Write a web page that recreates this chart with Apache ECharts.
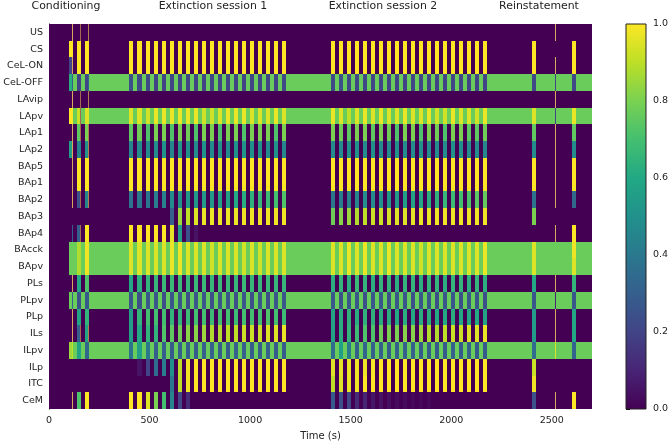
<!DOCTYPE html>
<html>
<head>
<meta charset="utf-8">
<style>
  html, body { margin: 0; padding: 0; background: #fff; }
  #main { width: 669px; height: 441px; }
</style>
</head>
<body>
<div id="main"></div>
<script src="https://cdn.jsdelivr.net/npm/echarts@6/dist/echarts.min.js"></script>
<script>
var regions = ['US','CS','CeL-ON','CeL-OFF','LAvip','LApv','LAp1','LAp2','BAp5','BAp1','BAp2','BAp3','BAp4','BAcck','BApv','PLs','PLpv','PLp','ILs','ILpv','ILp','ITC','CeM'];
var sessions = ['Conditioning','Extinction session 1','Extinction session 2','Reinstatement'];
var xTicks = [0,500,1000,1500,2000,2500];

// CS onsets (s), each lasts 20 s
var csOnsets = [97,138,178,
  400,440,480,520,560,600,640,680,720,760,800,840,880,920,960,1000,1040,1080,1120,1160,
  1400,1440,1480,1520,1560,1600,1640,1680,1720,1760,1800,1840,1880,1920,1960,2000,2040,2080,2120,2160,
  2400,2600];
var csLength = 20;
var restStart = 97;
var tEnd = 2700;

// activity between CS, per row
var restLevel = [0,0,0,0.77,0,0.77,0,0,0,0,0,0,0,0.77,0.77,0,0.77,0,0,0.77,0,0,0];

// activity during each CS: 3 conditioning, 20 + 20 extinction, 2 reinstatement
var vUS    = [0,0,0, 0,0,0,0,0,0,0,0,0,0,0,0,0,0,0,0,0,0,0,0, 0,0,0,0,0,0,0,0,0,0,0,0,0,0,0,0,0,0,0,0, 0,0];
var vCS    = [1,1,1, 1,1,1,1,1,1,1,1,1,1,1,1,1,1,1,1,1,1,1,1, 1,1,1,1,1,1,1,1,1,1,1,1,1,1,1,1,1,1,1,1, 1,1];
var vCelOn = [.2,1,1, 1,1,1,1,1,1,1,1,1,1,1,1,1,1,1,1,1,1,1,1, 1,1,1,1,1,1,1,1,1,1,1,1,1,1,1,1,1,1,1,1, 1,1];
var vCelOff= [.62,.2,.2, .24,.22,.22,.2,.2,.2,.2,.2,.2,.2,.2,.2,.2,.2,.2,.2,.2,.2,.2,.22, .22,.24,.22,.22,.22,.2,.2,.2,.2,.2,.2,.2,.2,.2,.2,.2,.2,.2,.2,.2, .22,.22];
var vLAvip = [0,0,0, 0,0,0,0,0,0,0,0,0,0,0,0,0,0,0,0,0,0,0,0, 0,0,0,0,0,0,0,0,0,0,0,0,0,0,0,0,0,0,0,0, 0,0];
var vLApv  = [1,.92,.95, .95,.95,.93,.97,.97,.97,.97,.97,.97,.93,.93,.95,.97,.97,.97,.95,.95,.95,.97,.95, .97,.95,.9,.95,.97,.95,.97,.95,.95,.97,.95,.95,.97,.93,.93,.97,.95,.95,.93,.97, .95,.97];
var vLAp1  = [0,.75,.8, .75,.78,.72,.8,.8,.72,.8,.78,.72,.8,.8,.72,.8,.8,.72,.8,.8,.8,.72,.8, .8,.78,.75,.8,.8,.75,.8,.78,.72,.8,.8,.72,.8,.78,.72,.8,.8,.75,.75,.78, .75,.75];
var vLAp2  = [.55,.44,.5, .46,.48,.48,.48,.5,.46,.52,.5,.48,.5,.48,.5,.48,.5,.5,.5,.5,.48,.5,.46, .48,.48,.5,.5,.48,.5,.48,.48,.5,.48,.48,.5,.48,.48,.48,.5,.5,.48,.48,.46, .48,.48];
var vBAp5  = [0,1,1, 1,1,1,1,1,1,1,1,1,1,1,1,1,1,1,1,1,1,1,1, 1,1,1,1,1,1,1,1,1,1,1,1,1,1,1,1,1,1,1,1, 1,1];
var vBAp1  = [0,1,1, 1,1,1,1,1,1,1,1,1,1,1,1,1,1,1,1,1,1,1,1, 1,1,1,1,1,1,1,1,1,1,1,1,1,1,1,1,1,1,1,1, 1,1];
var vBAp2  = [0,.25,.45, .38,.4,.4,.42,.44,.48,.5,.52,.52,.54,.54,.56,.57,.6,.62,.64,.66,.68,.7,.72, .4,.42,.44,.46,.48,.48,.5,.52,.54,.56,.58,.6,.62,.64,.66,.68,.7,.72,.74,.76, .38,.34];
var vBAp3  = [0,0,0, 0,0,0,0,0,.3,.85,.9,.95,.97,.97,.97,.97,.97,.98,.98,.98,.98,.98,.98, .78,.82,.85,.88,.9,.92,.92,.94,.95,.95,.96,.97,.97,.98,.98,.98,.98,.98,.98,.98, .8,0];
var vBAp4  = [0,.3,1, 1,1,1,1,1,.96,.55,.25,.05,0,0,0,0,0,0,0,0,0,0,0, 0,0,0,0,0,0,0,0,0,0,0,0,0,0,0,0,0,0,0,0, 0,1];
var vBAcck = [.77,.88,.98, .95,.95,.95,.95,.95,.97,.98,.95,.95,.95,.93,.95,.95,.95,.93,.95,.93,.95,.95,.95, .95,.95,.97,.95,.97,.95,.95,.97,.95,.95,.95,.93,.95,.95,.95,.95,.95,.95,.95,.97, .95,.98];
var vBApv  = [.77,.88,.98, .95,.95,.95,.95,.95,.97,.98,.95,.95,.95,.93,.95,.95,.95,.93,.95,.93,.95,.95,.95, .95,.95,.97,.95,.97,.95,.95,.97,.95,.95,.95,.93,.95,.95,.95,.95,.95,.95,.95,.97, .95,.95];
var vPLs   = [0,.6,.72, .6,.63,.65,.66,.67,.67,.67,.66,.67,.67,.66,.67,.67,.66,.67,.66,.66,.67,.66,.66, .63,.65,.63,.67,.65,.63,.65,.65,.63,.65,.65,.63,.65,.65,.63,.65,.65,.63,.65,.63, .6,.65];
var vPLpv  = [.77,.25,.28, .27,.24,.27,.27,.24,.27,.27,.24,.27,.27,.24,.27,.27,.24,.27,.24,.27,.24,.27,.27, .27,.24,.27,.27,.24,.27,.27,.24,.27,.27,.24,.27,.27,.24,.27,.27,.24,.27,.27,.24, .27,.27];
var vPLp   = [0,.58,.65, .55,.65,.7,.7,.7,.65,.65,.68,.7,.7,.68,.7,.7,.68,.7,.7,.7,.72,.7,.68, .58,.62,.64,.62,.64,.64,.62,.62,.6,.62,.6,.62,.62,.6,.6,.62,.6,.6,.6,.58, .55,.6];
var vILs   = [0,.3,.58, .55,.6,.65,.65,.72,.75,.78,.82,.82,.85,.88,.88,.9,.9,.92,.92,.92,.95,.95,.97, .58,.62,.65,.68,.72,.72,.78,.8,.8,.82,.82,.85,.88,.88,.9,.92,.92,.95,.95,.97, .55,.6];
var vILpv  = [.85,.58,.33, .38,.55,.4,.3,.3,.28,.3,.3,.28,.3,.3,.28,.28,.3,.3,.28,.28,.3,.28,.28, .35,.55,.4,.3,.32,.3,.3,.28,.3,.3,.3,.28,.28,.28,.28,.3,.28,.3,.28,.28, .35,.32];
var vILp   = [0,0,0, 0,.05,.2,.35,.42,.5,.9,.98,1,1,1,1,1,1,1,1,1,1,1,1, .95,.96,.97,.98,.98,.99,1,1,1,1,1,1,1,1,1,1,1,1,1,1, .92,0];
var vITC   = [0,0,0, 0,0,0,0,0,.4,.9,.98,1,1,1,1,1,1,1,1,1,1,1,1, .9,.95,.97,.98,1,1,1,1,1,1,1,1,1,1,1,1,1,1,1,1, .98,0];
var vCeM   = [0,.72,1, 1,1,.95,.8,.7,.45,.22,.12,0,0,0,0,0,0,0,0,0,0,0,0, .28,.24,.22,.12,.1,.06,.05,.04,.03,.03,.02,.02,.02,0,0,0,0,0,0,0, .25,1];
var csValues = [vUS,vCS,vCelOn,vCelOff,vLAvip,vLApv,vLAp1,vLAp2,vBAp5,vBAp1,vBAp2,vBAp3,vBAp4,vBAcck,vBApv,vPLs,vPLpv,vPLp,vILs,vILpv,vILp,vITC,vCeM];

// US shocks: brief, one value per row, null = nothing visible there
var usOnsets = [114,156,194,2514];
var usLength = 5;
var us1 = [1,null,1,.3,1,null,1,1,1,1,1,null,.3,null,null,1,.3,1,1,.9,null,null,1];
var us2 = [1,null,null,null,1,1,1,null,null,null,1,null,1,null,null,null,null,null,1,null,null,null,null];
var us3 = [1,null,null,.3,1,null,1,1,null,null,1,null,null,null,null,null,null,null,1,null,null,null,null];
var us4 = [1,null,1,.2,1,.2,1,1,1,1,1,null,1,null,null,1,.1,1,1,.95,null,null,1];
var usValues = [us1,us2,us3,us4];
var usTint = ['#d9a85f','#a5694f','#b08050','#d9a85f'];

var viridis = ['#440154','#482475','#414487','#355f8d','#2a788e','#21918c','#22a884','#44bf70','#7ad151','#bddf26','#fde725'];

var cells = [];
regions.forEach(function (name, r) {
    cells.push([0, restStart, r, 0]);
    cells.push([restStart, tEnd, r, restLevel[r]]);
    csOnsets.forEach(function (t, i) {
        var v = csValues[r][i];
        if (v > 0) cells.push([t, t + csLength, r, v]);
    });
});
var usCells = [];
usOnsets.forEach(function (t, k) {
    regions.forEach(function (name, r) {
        var v = usValues[k][r];
        if (v !== null) usCells.push([t, t + usLength, r, v, k]);
    });
});

function bandRect(api) {
    var a = api.coord([api.value(0), api.value(2)]);
    var b = api.coord([api.value(1), api.value(2)]);
    var h = api.size([0, 1])[1];
    var x0 = Math.round(a[0]), x1 = Math.round(b[0]);
    var y0 = Math.round(a[1] - h / 2), y1 = Math.round(a[1] + h / 2);
    return { x: x0, y: y0, width: Math.max(1, x1 - x0), height: y1 - y0 };
}

function renderCell(params, api) {
    return { type: 'rect', shape: bandRect(api), style: { fill: api.visual('color') } };
}

function renderUs(params, api) {
    var v = api.value(3);
    var fill = v === 1 ? usTint[api.value(4)] : api.visual('color');
    return { type: 'rect', shape: bandRect(api), style: { fill: fill } };
}

function renderBar(params, api) {
    var a = api.coord([0, 1]);
    var b = api.coord([1, 0]);
    var stops = viridis.map(function (c, i) {
        return { offset: 1 - i / (viridis.length - 1), color: c };
    }).reverse();
    return {
        type: 'rect',
        shape: { x: a[0], y: a[1], width: b[0] - a[0], height: b[1] - a[1] },
        style: {
            fill: new echarts.graphic.LinearGradient(0, 0, 0, 1, stops),
            stroke: '#222',
            lineWidth: 1
        }
    };
}

var textColor = '#222';
var fontFamily = '"DejaVu Sans"';
var titleX = [66, 213, 383, 539];

var chart = echarts.init(document.getElementById('main'), null, { renderer: 'canvas' });
chart.setOption({
    animation: false,
    backgroundColor: '#fff',
    title: sessions.map(function (s, i) {
        return {
            text: s, left: titleX[i], top: 1, padding: 0, textAlign: 'center',
            textStyle: { fontSize: 10.9, fontWeight: 'normal', color: textColor, fontFamily: fontFamily }
        };
    }),
    grid: [
        { left: 49, top: 24, width: 543, height: 385, outerBoundsMode: 'none' },
        { left: 626, top: 24, width: 20, height: 385, outerBoundsMode: 'none' }
    ],
    xAxis: [
        {
            type: 'value', gridIndex: 0, min: 0, max: tEnd,
            name: 'Time (s)', nameLocation: 'middle', nameGap: 22,
            nameTextStyle: { fontSize: 10, color: textColor, fontFamily: fontFamily },
            axisLine: { onZero: false, lineStyle: { color: '#000', width: 1 } },
            axisTick: { length: 4, customValues: xTicks, lineStyle: { color: '#000' } },
            axisLabel: {
                customValues: xTicks, fontSize: 9.5, color: textColor, fontFamily: fontFamily, margin: 7,
                formatter: function (v) { return String(v); }
            },
            splitLine: { show: false }
        },
        { type: 'value', gridIndex: 1, min: 0, max: 1, show: false }
    ],
    yAxis: [
        {
            type: 'category', gridIndex: 0, data: regions, inverse: true,
            axisLine: { onZero: false, lineStyle: { color: '#000', width: 1 } },
            axisTick: { alignWithLabel: true, length: 4, lineStyle: { color: '#000' } },
            axisLabel: { interval: 0, fontSize: 9.5, color: textColor, fontFamily: fontFamily, margin: 6 },
            splitLine: { show: false }
        },
        {
            type: 'value', gridIndex: 1, position: 'right', min: 0, max: 1, interval: 0.2,
            axisLine: { show: false },
            axisTick: { show: true, length: 4, lineStyle: { color: '#000' } },
            axisLabel: {
                fontSize: 9.5, color: textColor, fontFamily: fontFamily, margin: 7,
                formatter: function (v) { return v.toFixed(1); }
            },
            splitLine: { show: false }
        }
    ],
    visualMap: {
        show: false, type: 'continuous', min: 0, max: 1, dimension: 3, seriesIndex: [0, 1],
        inRange: { color: viridis }
    },
    series: [
        {
            type: 'custom', xAxisIndex: 0, yAxisIndex: 0, renderItem: renderCell,
            data: cells, encode: { x: [0, 1], y: 2 }, clip: true, silent: true
        },
        {
            type: 'custom', xAxisIndex: 0, yAxisIndex: 0, renderItem: renderUs,
            data: usCells, encode: { x: [0, 1], y: 2 }, clip: true, silent: true
        },
        {
            type: 'custom', xAxisIndex: 1, yAxisIndex: 1, renderItem: renderBar,
            data: [[0, 1]], silent: true
        }
    ]
});
</script>
</body>
</html>
